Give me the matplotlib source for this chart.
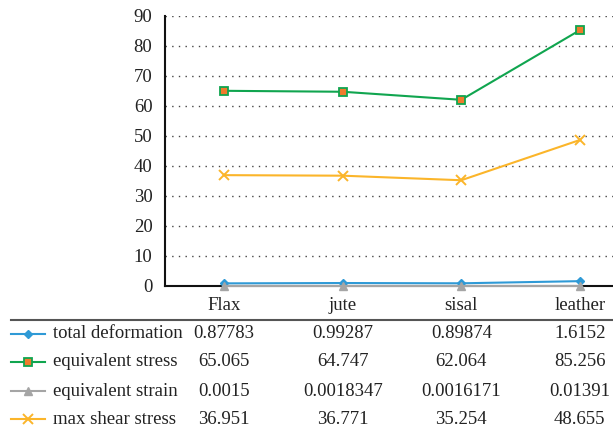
import matplotlib
matplotlib.use("Agg")
import matplotlib.pyplot as plt
from matplotlib.lines import Line2D
from matplotlib.transforms import blended_transform_factory

plt.rcParams['font.family'] = ['Liberation Serif', 'DejaVu Serif']

categories = ["Flax", "jute", "sisal", "leather"]
total_deformation = [0.87783, 0.99287, 0.89874, 1.6152]
equivalent_stress = [65.065, 64.747, 62.064, 85.256]
equivalent_strain = [0.0015, 0.0018347, 0.0016171, 0.01391]
max_shear_stress = [36.951, 36.771, 35.254, 48.655]
y_ticks = [0, 10, 20, 30, 40, 50, 60, 70, 80, 90]

series = [
    ("total deformation", total_deformation,
     dict(color="#2f9ad6", marker="D", markersize=4.5, mfc="#2f9ad6", mec="#2f9ad6")),
    ("equivalent stress", equivalent_stress,
     dict(color="#10a54f", marker="s", markersize=6, mfc="#f07b2c", mec="#10a54f", mew=1.3)),
    ("equivalent strain", equivalent_strain,
     dict(color="#a5a5a5", marker="^", markersize=5.5, mfc="#a5a5a5", mec="#a5a5a5")),
    ("max shear stress", max_shear_stress,
     dict(color="#fbb52a", marker="x", markersize=7, mfc="#fbb52a", mec="#fbb52a", mew=1.4)),
]

FS = 13.5
W, H = 613, 434
fig = plt.figure(figsize=(W / 100, H / 100), dpi=100)
ax = fig.add_axes([165 / W, (H - 286) / H, 474 / W, 270 / H])

x = list(range(len(categories)))
for name, vals, style in series:
    ax.plot(x, vals, lw=1.5, zorder=3, clip_on=False, **style)

ax.set_xlim(-0.5, len(categories) - 0.5)
ax.set_ylim(0, 90)
ax.set_yticks(y_ticks)
ax.set_xticks([])
ax.tick_params(axis='y', length=0, pad=9, labelsize=FS, colors="#222222")
ax.yaxis.grid(True, linestyle=(0, (1, 3.8)), color="#444444", lw=1.0)
ax.set_axisbelow(True)
for s in ("top", "right"):
    ax.spines[s].set_visible(False)
for s in ("left", "bottom"):
    ax.spines[s].set_color("#111111")
    ax.spines[s].set_linewidth(1.5)

# data table below the plot
tr = blended_transform_factory(ax.transData, fig.transFigure)
fy = lambda py: 1 - py / H

for i, c in enumerate(categories):
    ax.text(i, fy(306), c, transform=tr, ha="center", va="center",
            fontsize=FS, color="#222222", clip_on=False)

fig.add_artist(Line2D([11 / W, 1], [fy(320), fy(320)], color="#555555", lw=1.5,
                      transform=fig.transFigure))

row_y = [334, 362, 391, 419]
for (name, vals, style), py in zip(series, row_y):
    fig.add_artist(Line2D([11 / W, 45 / W], [fy(py), fy(py)], lw=1.5,
                          transform=fig.transFigure, color=style["color"]))
    st = {k: v for k, v in style.items() if k != "color"}
    fig.add_artist(Line2D([28 / W], [fy(py)], lw=0, transform=fig.transFigure, **st))
    fig.text(53 / W, fy(py), name, ha="left", va="center", fontsize=FS, color="#222222")
    for i, v in enumerate(vals):
        ax.text(i, fy(py), str(v), transform=tr, ha="center", va="center",
                fontsize=FS, color="#222222", clip_on=False)

fig.savefig("out.png", dpi=100)
